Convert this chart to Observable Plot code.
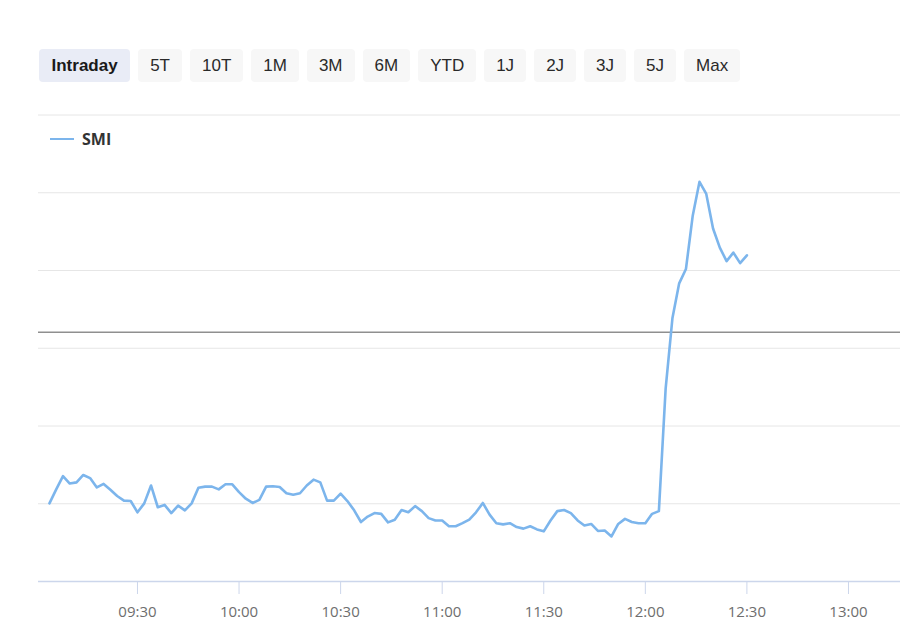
<!DOCTYPE html>
<html>
<head>
<meta charset="utf-8">
<script src="https://cdn.jsdelivr.net/npm/d3@7"></script>
<script src="https://cdn.jsdelivr.net/npm/@observablehq/plot@0.6"></script>
<style>
  html, body { margin: 0; padding: 0; background: #fff; }
  #wrap { position: relative; width: 900px; height: 640px; overflow: hidden; }
  #buttons { height: 100px; box-sizing: border-box; padding: 49px 0 0 39px; display: flex; gap: 8px; align-items: flex-start; }
  .btn { height: 33px; line-height: 33px; padding: 0 12px; border-radius: 4px; background: #f7f7f7;
         font-family: "Liberation Sans", Arial, sans-serif; font-size: 17px; color: #2a2a2a; white-space: nowrap; }
  .btn.active { background: #e9ecf6; color: #1a1a1a; font-weight: bold; padding: 0 12.5px; }
  #legend { position: absolute; left: 50px; top: 128px; display: flex; align-items: center; gap: 8px;
            font-family: "Open Sans", sans-serif; font-weight: bold; font-size: 16px; color: #333; }
  #legend .swatch { width: 24px; height: 2.5px; background: #7cb5ec; }
</style>
</head>
<body>
<div id="wrap">
  <div id="buttons"></div>
  <div id="chart"></div>
  <div id="legend"><span class="swatch"></span><span id="legendLabel"></span></div>
</div>
<script>
// ---- data ----
const rangeButtons = ["Intraday", "5T", "10T", "1M", "3M", "6M", "YTD", "1J", "2J", "3J", "5J", "Max"];
const activeButton = "Intraday";
const seriesName = "SMI";
const startTime = "09:04";     // first quote
const stepMinutes = 2;         // quote interval
const smiValues = [
  11880.1, 11883.7, 11887.1, 11885.2, 11885.5, 11887.4, 11886.6, 11884.2, 11885.1, 11883.6,
  11882.0, 11880.8, 11880.7, 11877.8, 11880.1, 11884.7, 11879.1, 11879.7, 11877.6, 11879.5,
  11878.3, 11880.1, 11884.1, 11884.4, 11884.4, 11883.7, 11885.0, 11885.0, 11883.0, 11881.3,
  11880.2, 11881.0, 11884.4, 11884.5, 11884.3, 11882.7, 11882.3, 11882.7, 11884.7, 11886.2,
  11885.5, 11880.8, 11880.8, 11882.6, 11880.7, 11878.3, 11875.3, 11876.7, 11877.6, 11877.4,
  11875.2, 11875.9, 11878.4, 11877.8, 11879.4, 11878.1, 11876.3, 11875.7, 11875.7, 11874.2,
  11874.2, 11875.0, 11875.9, 11877.8, 11880.2, 11877.2, 11875.0, 11874.7, 11875.0, 11874.0,
  11873.6, 11874.2, 11873.4, 11872.9, 11875.7, 11878.1, 11878.4, 11877.6, 11875.7, 11874.4,
  11874.8, 11873.0, 11873.1, 11871.6, 11874.8, 11876.1, 11875.3, 11875.0, 11875.0, 11877.4,
  11878.1, 11909.6, 11927.7, 11936.7, 11940.4, 11954.1, 11962.8, 11959.7, 11950.8, 11945.9,
  11942.4, 11944.6, 11941.9, 11943.9
];
const previousClose = 11924.1;
const xTickLabels = ["09:30", "10:00", "10:30", "11:00", "11:30", "12:00", "12:30", "13:00"];
const xDomainLabels = ["09:00:46", "13:15:22"];
const yGridValues = [11880, 11900, 11920, 11940, 11960, 11980];
const yDomain = [11860, 11980];

// ---- helpers ----
const toDate = (s) => {
  const [h, m, sec] = s.split(":").map(Number);
  return new Date(Date.UTC(2024, 0, 2, h, m, sec || 0));
};
const t0 = toDate(startTime);
const data = smiValues.map((v, i) => ({ time: new Date(+t0 + i * stepMinutes * 60000), value: v }));

// ---- buttons ----
const bwrap = document.getElementById("buttons");
for (const b of rangeButtons) {
  const el = document.createElement("div");
  el.className = "btn" + (b === activeButton ? " active" : "");
  el.textContent = b;
  bwrap.appendChild(el);
}
document.getElementById("legendLabel").textContent = seriesName;

// ---- chart ----
const chart = Plot.plot({
  width: 900,
  height: 540,
  marginTop: 14.5,
  marginBottom: 59,
  marginLeft: 38,
  marginRight: 0,
  style: { fontFamily: "'Open Sans', sans-serif", fontSize: "15px", background: "transparent" },
  x: { type: "utc", domain: xDomainLabels.map(toDate) },
  y: { domain: yDomain, axis: null },
  marks: [
    Plot.gridY(yGridValues, { stroke: "#e6e6e6", strokeOpacity: 1, strokeWidth: 1 }),
    Plot.ruleY([yDomain[0]], { stroke: "#ccd6eb", strokeWidth: 1.5 }),
    Plot.ruleY([previousClose], { stroke: "#8f8f8f", strokeWidth: 1.5 }),
    Plot.axisX(xTickLabels.map(toDate), {
      tickSize: 13, tickPadding: 12, stroke: "#ccd6eb", strokeOpacity: 1,
      fill: "#6e6e6e", tickFormat: d3.utcFormat("%H:%M"), label: null
    }),
    Plot.line(data, { x: "time", y: "value", stroke: "#7cb5ec", strokeWidth: 2.6, strokeLinejoin: "round" })
  ]
});
document.getElementById("chart").appendChild(chart);
</script>
</body>
</html>
